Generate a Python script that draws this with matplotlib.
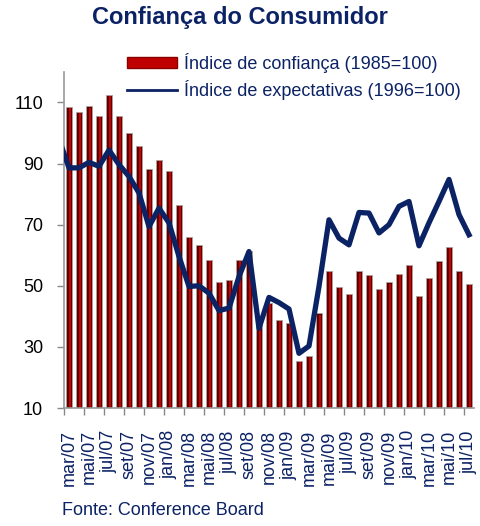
import matplotlib
matplotlib.use("Agg")
import matplotlib.pyplot as plt
from matplotlib.lines import Line2D
from matplotlib.patches import Patch
import numpy as np

plt.rcParams['font.family'] = ['Liberation Sans', 'DejaVu Sans']

months = ["mar/07","abr/07","mai/07","jun/07","jul/07","ago/07","set/07","out/07","nov/07","dez/07",
          "jan/08","fev/08","mar/08","abr/08","mai/08","jun/08","jul/08","ago/08","set/08","out/08",
          "nov/08","dez/08","jan/09","fev/09","mar/09","abr/09","mai/09","jun/09","jul/09","ago/09",
          "set/09","out/09","nov/09","dez/09","jan/10","fev/10","mar/10","abr/10","mai/10","jun/10","jul/10"]

confianca = [108.6, 106.8, 108.7, 105.7, 112.4, 105.7, 99.9, 95.7, 88.1, 91.1,
             87.7, 76.6, 66.1, 63.2, 58.6, 51.4, 52.0, 58.5, 61.4, 38.8,
             44.3, 38.9, 37.8, 25.4, 27.1, 41.0, 55.0, 49.7, 47.4, 54.7,
             53.6, 49.0, 51.1, 54.0, 56.9, 46.7, 52.6, 58.0, 62.8, 54.7, 50.7]

# first value is fev/07 (outside the visible axis range)
expectativas = [98.0,
                88.6, 88.6, 90.4, 89.1, 94.4, 89.7, 85.8, 80.4, 69.4, 75.4,
                70.6, 59.6, 49.8, 50.0, 47.6, 41.9, 42.7, 53.0, 61.2, 36.1,
                46.2, 44.5, 42.4, 27.9, 30.3, 49.8, 71.6, 65.6, 63.4, 74.0,
                73.8, 67.3, 70.0, 76.0, 77.6, 63.1, 70.6, 77.6, 84.8, 73.3, 66.7]

yticks = [10, 30, 50, 70, 90, 110]

navy = '#0b2265'
fig = plt.figure(figsize=(4.8, 5.26), dpi=100)
ax = fig.add_axes([0.1333, 0.2243, 0.8542, 0.6390])

x = np.arange(len(months))
ax.bar(x, np.array(confianca) - 10, bottom=10, width=0.6, color='#5a0000',
       edgecolor='#b0a0a0', linewidth=0.6, zorder=2)
ax.bar(x + 0.07, np.array(confianca) - 10.4, bottom=10, width=0.2, color='#c80000',
       linewidth=0, zorder=2)

xe = np.arange(-1, len(months))
ax.plot(xe, expectativas, color=navy, lw=3.8, solid_joinstyle='round', zorder=3, clip_on=True)

ax.set_xlim(-0.5, len(months) - 0.5)
ax.set_ylim(10, 120)
ax.set_yticks(yticks)
ax.tick_params(axis='y', labelsize=13, colors='#888888', labelcolor='black', length=5, width=1, pad=10)

ax.set_xticks(np.arange(-0.5, len(months) - 0.5, 2))
ax.set_xticklabels([])
ax.set_xticks(x[::2], minor=True)
ax.set_xticklabels(months[::2], minor=True, rotation=90, fontsize=13, color=navy)
ax.tick_params(axis='x', which='major', colors='#888888', length=5, width=1)
ax.tick_params(axis='x', which='minor', length=0, pad=16)
for lab in ax.get_xticklabels(minor=True):
    lab.set_horizontalalignment('center')

for s in ['top', 'right']:
    ax.spines[s].set_visible(False)
for s in ['left', 'bottom']:
    ax.spines[s].set_color('#999999')
    ax.spines[s].set_linewidth(1.2)

handles = [Patch(facecolor='#c00000', edgecolor='#8a0000', linewidth=1),
           Line2D([0], [0], color=navy, lw=2)]
labels = ["Índice de confiança (1985=100)", "Índice de expectativas (1996=100)"]
fig.legend(handles, labels, loc='upper left', bbox_to_anchor=(0.264, 0.899), frameon=False,
           fontsize=13, labelcolor=navy, handlelength=2.8, handleheight=0.55,
           handletextpad=0.4, labelspacing=0.38, borderaxespad=0, borderpad=0)

fig.text(0.5, 0.966, "Confiança do Consumidor", ha='center', va='center',
         fontsize=17, fontweight='bold', color=navy)
fig.text(0.129, 0.03, "Fonte: Conference Board", ha='left', va='center',
         fontsize=13, color=navy)

fig.savefig("out.png", dpi=100)
